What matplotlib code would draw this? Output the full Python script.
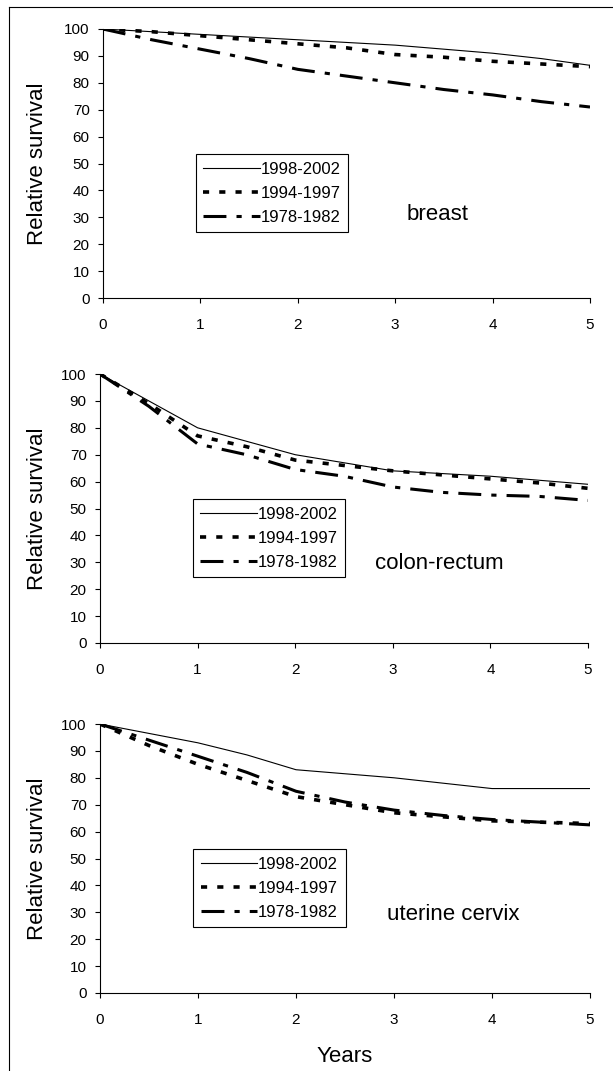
import matplotlib.pyplot as plt
from matplotlib.lines import Line2D

plt.rcParams['font.family'] = ['Liberation Sans', 'DejaVu Sans']

years = [0, 0.5, 1, 1.5, 2, 2.5, 3, 3.5, 4, 4.5, 5]
periods = ["1998-2002", "1994-1997", "1978-1982"]

breast_9802 = [100, 99, 98, 97, 96, 95, 94, 92.5, 91, 89, 86.5]
breast_9497 = [100, 99, 97.5, 96, 94.5, 93, 90.5, 89.5, 88, 87, 86]
breast_7882 = [100, 96, 92.5, 89, 85, 82.5, 80, 77.5, 75.5, 73, 71]

colon_9802 = [100, 90, 80, 75, 70, 67, 64, 63, 62, 60.5, 59]
colon_9497 = [100, 89, 77, 73, 68, 66, 64, 62.5, 61, 59.5, 57.5]
colon_7882 = [100, 88, 74, 70, 64.5, 62, 58, 56, 55, 54.5, 53]

cervix_9802 = [100, 96.5, 93, 88.5, 83, 81.5, 80, 78, 76, 76, 76]
cervix_9497 = [100, 92, 85, 79, 73, 70, 67, 65.5, 64, 63.5, 63]
cervix_7882 = [100, 94, 88, 82, 75, 71, 68, 66, 64.5, 63.5, 62.5]

sites = ["breast", "colon-rectum", "uterine cervix"]

W, H = 613, 1071
fig = plt.figure(figsize=(W / 100, H / 100), dpi=100)

# axes boxes in pixels: left, right, top, bottom
boxes = [(103, 590, 29, 298), (100, 588, 374, 643), (100, 590, 724, 993)]
data = [(breast_9802, breast_9497, breast_7882),
        (colon_9802, colon_9497, colon_7882),
        (cervix_9802, cervix_9497, cervix_7882)]
label_pos = [(3.44, 31), (3.48, 29.6), (3.6, 29)]

styles = [dict(color="black", lw=0.8, linestyle="-"),
          dict(color="black", lw=2.6, linestyle=(0, (1.7, 2.8))),
          dict(color="black", lw=2.2, linestyle=(0, (7.5, 3.3, 1.7, 3.3)))]

for (l, r, t, b), series, site, (tx, ty) in zip(boxes, data, sites, label_pos):
    ax = fig.add_axes([l / W, 1 - b / H, (r - l) / W, (b - t) / H])
    for vals, name, st in zip(series, periods, styles):
        ax.plot(years, vals, label=name, **st)
    ax.set_xlim(0, 5)
    ax.set_ylim(0, 100)
    ax.set_xticks(range(6))
    ax.set_yticks(range(0, 101, 10))
    ax.spines["top"].set_visible(False)
    ax.spines["right"].set_visible(False)
    ax.tick_params(labelsize=11, length=3.6, width=0.8)
    ax.tick_params(axis="x", pad=11)
    ax.tick_params(axis="y", pad=6)
    ax.set_ylabel("Relative survival", fontsize=16)
    ax.yaxis.set_label_coords((48 - l) / (r - l), 0.5)
    ax.text(tx, ty, site, fontsize=16, ha="center", va="center")
    leg = ax.legend(loc="upper left", bbox_to_anchor=(0.19, 0.535), fontsize=12,
                    handlelength=3.4, handletextpad=0.05, borderpad=0.45,
                    labelspacing=0.55, fancybox=False, framealpha=1,
                    edgecolor="black", borderaxespad=0)
    leg.get_frame().set_linewidth(0.8)

fig.text(0.5 * (100 + 590) / W, 1 - 1057 / H, "Years", fontsize=16,
         ha="center", va="center")

# page frame (top and left edges)
fig.add_artist(Line2D([9 / W, 1], [1 - 7 / H, 1 - 7 / H], color="black", lw=0.8))
fig.add_artist(Line2D([9 / W, 9 / W], [0, 1 - 7 / H], color="black", lw=0.8))

fig.savefig("out.png", dpi=100)
